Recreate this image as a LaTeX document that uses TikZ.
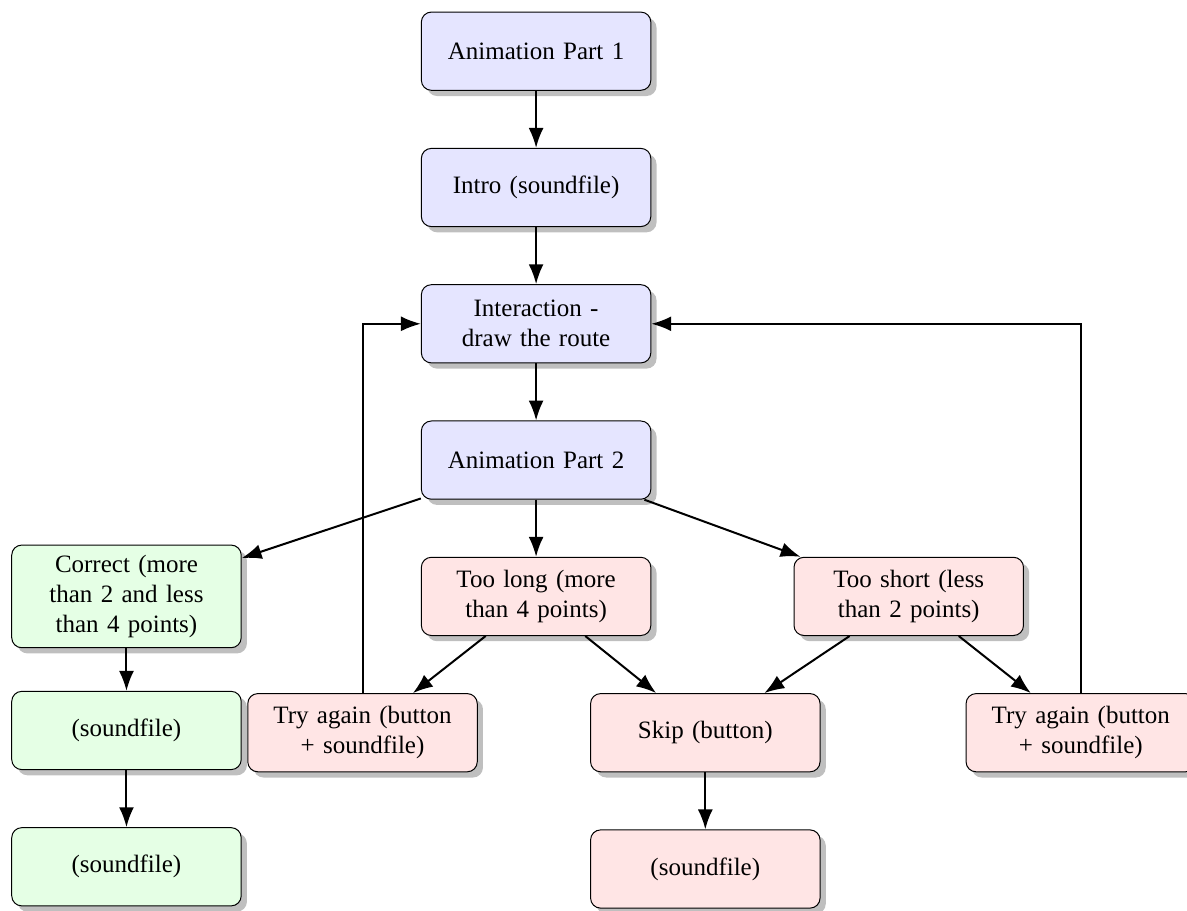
\documentclass[tikz,border=0pt]{standalone}
\usepackage{fontspec}
\setmainfont{Liberation Serif}
\usepackage{tikz}
\usetikzlibrary{shapes.geometric, arrows.meta, positioning, shadows}

\begin{document}
\begin{tikzpicture}[
    node distance=0.803cm,
    fbox/.style={rectangle, rounded corners, text width=2.7cm, inner xsep=7.5pt, inner ysep=4pt, minimum height=1.1cm, text centered, align=center, draw=black, drop shadow},
    mainbox/.style={fbox, fill=blue!10},
    okbox/.style={fbox, fill=green!10},
    badbox/.style={fbox, fill=red!10},
    farrow/.style={-{Latex[length=2.8mm]}, thick}
]
\useasboundingbox (0,0) rectangle (16.695,-12.813);
\node[mainbox] (anim1) at (7.54,-0.72) {Animation Part 1};
\node[mainbox, below=of anim1] (intro) {Intro (soundfile)};
\node[mainbox, below=of intro] (inter) {Interaction -\\draw the route};
\node[mainbox, below=of inter] (anim2) {Animation Part 2};
\node[badbox, below=of anim2] (long) {Too long (more than 4 points)};
\node[okbox, left=2.52cm of long] (correct) {Correct (more than 2 and less than 4 points)};
\node[badbox, right=2.0cm of long] (short) {Too short (less than 2 points)};
\node[badbox, below=of long, xshift=2.38cm] (skip) {Skip (button)};
\node[badbox, left=1.58cm of skip] (retryl) {Try again (button + soundfile)};
\node[badbox, right=2.04cm of skip] (retryr) {Try again (button + soundfile)};
\node[okbox, below=0.6cm of correct] (oksnda) {(soundfile)};
\node[okbox, below=of oksnda] (oksndb) {(soundfile)};
\node[badbox, below=of skip] (skipsnd) {(soundfile)};
% main column
\draw[farrow] (anim1) -- (intro);
\draw[farrow] (intro) -- (inter);
\draw[farrow] (inter) -- (anim2);
% outcomes
\draw[farrow] (anim2) -- (correct);
\draw[farrow] (anim2) -- (long);
\draw[farrow] (anim2) -- (short);
\draw[farrow] (correct) -- (oksnda);
\draw[farrow] (oksnda) -- (oksndb);
\draw[farrow] (long) -- (retryl);
\draw[farrow] (long) -- (skip);
\draw[farrow] (short) -- (skip);
\draw[farrow] (short) -- (retryr);
\draw[farrow] (skip) -- (skipsnd);
% back to the interaction
\draw[farrow] (retryl.north) |- (inter.west);
\draw[farrow] (retryr.north) |- (inter.east);
\end{tikzpicture}
\end{document}
